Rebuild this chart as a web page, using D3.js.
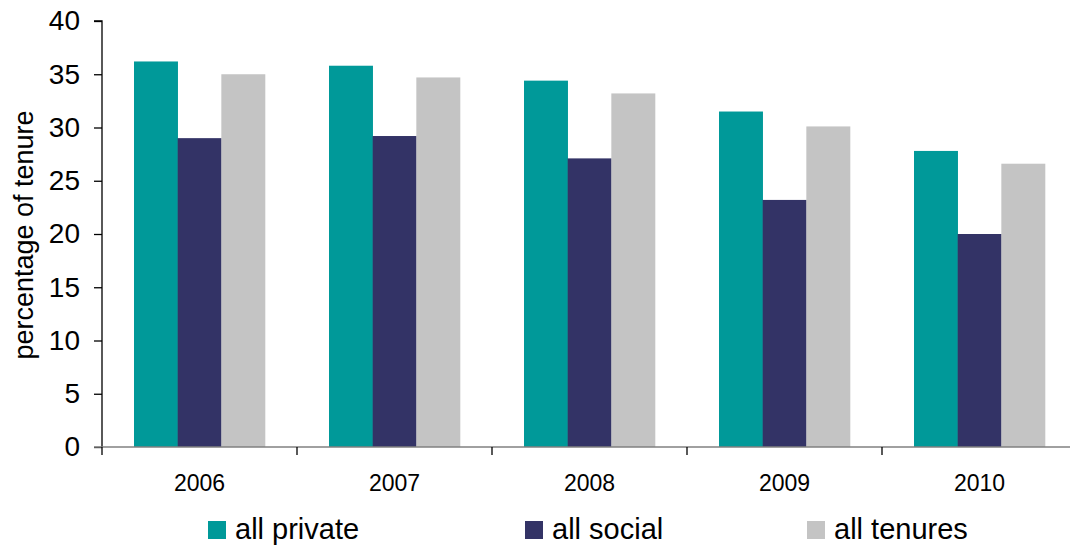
<!DOCTYPE html>
<html>
<head>
<meta charset="utf-8">
<script src="https://cdn.jsdelivr.net/npm/d3@7"></script>
<style>
  html, body { margin: 0; padding: 0; background: #fff; }
  svg { display: block; font-family: "Liberation Sans", Arial, sans-serif; }
</style>
</head>
<body>
<svg id="chart" width="1070" height="545"></svg>
<script>
const years = ["2006", "2007", "2008", "2009", "2010"];
const seriesNames = ["all private", "all social", "all tenures"];
const seriesColors = ["#009999", "#333366", "#C4C4C4"];
const allPrivate = [36.2, 35.8, 34.4, 31.5, 27.8];
const allSocial = [29.0, 29.2, 27.1, 23.2, 20.0];
const allTenures = [35.0, 34.7, 33.2, 30.1, 26.6];
const yTicks = [0, 5, 10, 15, 20, 25, 30, 35, 40];

(function () {
const seriesValues = [allPrivate, allSocial, allTenures];
const rows = years.map((yr, i) => ({
  year: yr,
  values: seriesNames.map((s, j) => ({ series: s, color: seriesColors[j], value: seriesValues[j][i] }))
}));

const svg = d3.select("#chart");
const mLeft = 102, mRight = 1077, mTop = 21, mBottom = 447;

const x0 = d3.scaleBand().domain(years).range([mLeft, mRight]).padding(0);
const groupPad = 32;
const x1 = d3.scaleBand().domain(seriesNames).range([groupPad, x0.bandwidth() - groupPad]).padding(0);
const y = d3.scaleLinear().domain([0, 40]).range([mBottom, mTop]);

// bars
const g = svg.append("g");
g.selectAll("g.grp").data(rows).join("g")
  .attr("class", "grp")
  .attr("transform", d => `translate(${x0(d.year)},0)`)
  .selectAll("rect").data(d => d.values).join("rect")
  .attr("x", d => x1(d.series))
  .attr("width", x1.bandwidth() + 0.3)
  .attr("y", d => y(d.value))
  .attr("height", d => y(0) - y(d.value))
  .attr("fill", d => d.color);

// y axis
const yAxis = svg.append("g")
  .attr("transform", `translate(${mLeft},0)`)
  .call(d3.axisLeft(y).tickValues(yTicks).tickSize(8).tickPadding(14));
yAxis.select(".domain").attr("stroke", "#000").attr("stroke-width", 1.3).attr("d", `M-8,${mTop}H0V${mBottom}`);
yAxis.selectAll(".tick line").attr("stroke", "#000").attr("stroke-width", 1.3);
yAxis.selectAll(".tick text").attr("font-size", 28).attr("fill", "#000")
  .attr("font-family", "Liberation Sans, Arial, sans-serif");

// x axis line and ticks at category boundaries
const xAxisG = svg.append("g");
xAxisG.append("line")
  .attr("x1", mLeft - 8).attr("x2", mRight).attr("y1", mBottom).attr("y2", mBottom)
  .attr("stroke", "#808080").attr("stroke-width", 1.5);
const boundaries = years.map(yr => x0(yr)).concat([x0(years[years.length - 1]) + x0.bandwidth()]);
xAxisG.selectAll("line.tk").data(boundaries).join("line")
  .attr("class", "tk")
  .attr("x1", d => d).attr("x2", d => d)
  .attr("y1", mBottom).attr("y2", mBottom + 8)
  .attr("stroke", "#000").attr("stroke-width", 1.3);
xAxisG.selectAll("text").data(years).join("text")
  .attr("x", d => x0(d) + x0.bandwidth() / 2)
  .attr("y", 491)
  .attr("text-anchor", "middle")
  .attr("font-size", 23)
  .attr("fill", "#000")
  .text(d => d);

// y label
svg.append("text")
  .attr("transform", "translate(33,235) rotate(-90)")
  .attr("text-anchor", "middle")
  .attr("font-size", 27)
  .attr("fill", "#000")
  .text("percentage of tenure");

// legend
const legendX = [208, 525, 807];
const lg = svg.append("g").selectAll("g").data(seriesNames).join("g")
  .attr("transform", (d, i) => `translate(${legendX[i]},521)`);
lg.append("rect").attr("width", 18).attr("height", 18).attr("fill", (d, i) => seriesColors[i]);
lg.append("text").attr("x", 27).attr("y", 18).attr("font-size", 29).attr("fill", "#000").text(d => d);
})();
</script>
</body>
</html>
